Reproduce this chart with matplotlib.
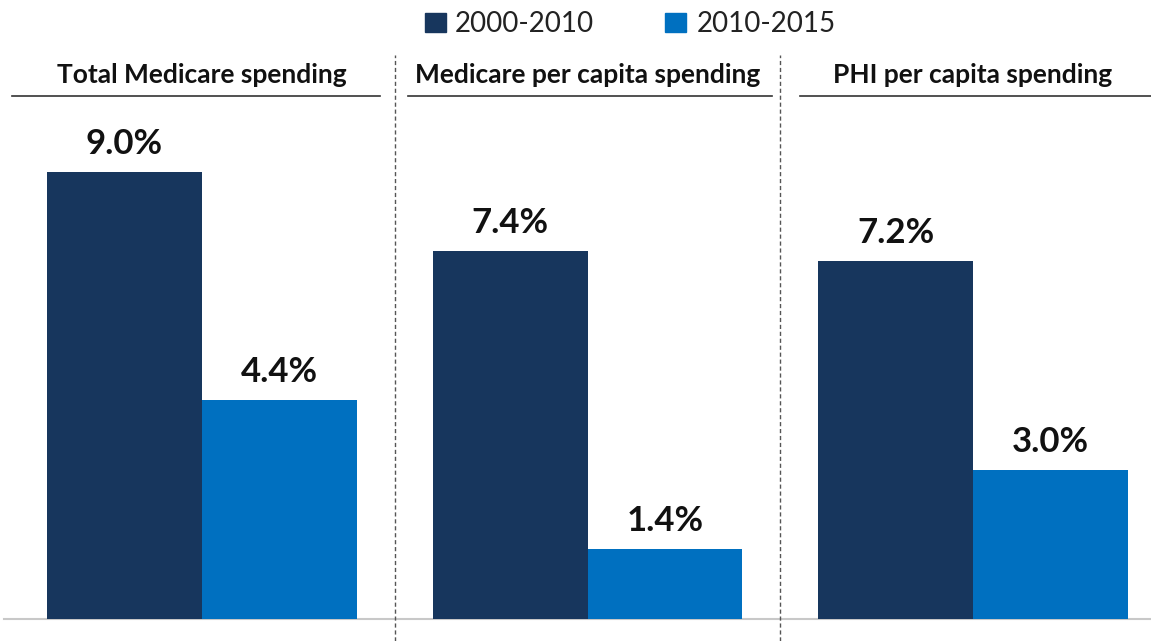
import matplotlib
matplotlib.use('Agg')
import matplotlib.pyplot as plt
from matplotlib.patches import Rectangle

# data
groups = ['Total Medicare spending', 'Medicare per capita spending', 'PHI per capita spending']
periods = ['2000-2010', '2010-2015']
growth_2000_2010 = [9.0, 7.4, 7.2]
growth_2010_2015 = [4.4, 1.4, 3.0]

dark = '#17365d'
light = '#0070c0'

plt.rcParams['font.family'] = ['Lato', 'DejaVu Sans']

W, H = 1151, 641
fig = plt.figure(figsize=(W / 100, H / 100), dpi=100)
ax = fig.add_axes([0, 0, 1, 1])

# pixel scale: 385.5 px per group, 49.7 px per percent, baseline at 22 px from bottom
px_x = 385.5
px_y = 49.7
x0 = 202 / px_x
y0 = 22 / px_y
ax.set_xlim(-x0, (W - 202) / px_x)
ax.set_ylim(-y0, (H - 22) / px_y)
ax.axis('off')


def fx(p):
    return (p - 202) / px_x


def fy(p):
    # p = pixel row from top
    return (H - p - 22) / px_y


bw = 0.402
xs = list(range(len(groups)))
b1 = ax.bar([x - bw / 2 for x in xs], growth_2000_2010, width=bw, color=dark, label=periods[0])
b2 = ax.bar([x + bw / 2 for x in xs], growth_2010_2015, width=bw, color=light, label=periods[1])

for bars in (b1, b2):
    for rect in bars:
        v = rect.get_height()
        ax.text(rect.get_x() + rect.get_width() / 2, v + 18 / px_y, f'{v:.1f}%',
                ha='center', va='baseline', fontsize=25, fontweight='bold', color='#111111')

# baseline
ax.axhline(0, color='#c8c8c8', lw=1.5, xmin=4 / W, zorder=0)

# dividers between panels
for xd in (0.5, 1.5):
    ax.plot([xd, xd], [-y0, fy(55)], color='#555555', lw=1,
            linestyle=(0, (3, 2)), clip_on=False)

# panel titles with underline
spans = [(12, 380), (408, 772), (800, 1151)]
for x, name, (a, b) in zip(xs, groups, spans):
    ax.text(x, fy(83), name, ha='center', va='baseline', fontsize=19,
            fontweight='bold', color='#111111')
    ax.plot([fx(a), fx(b)], [fy(96), fy(96)], color='#333333', lw=1.2)

# legend
for (lx, tx), lab, c in zip([(425, 455), (665, 697)], periods, [dark, light]):
    ax.add_patch(Rectangle((fx(lx), fy(32)), 21 / px_x, 19 / px_y, color=c))
    ax.text(fx(tx), fy(32), lab, ha='left', va='baseline', fontsize=20, color='#222222')

fig.savefig('out.png', dpi=100)
